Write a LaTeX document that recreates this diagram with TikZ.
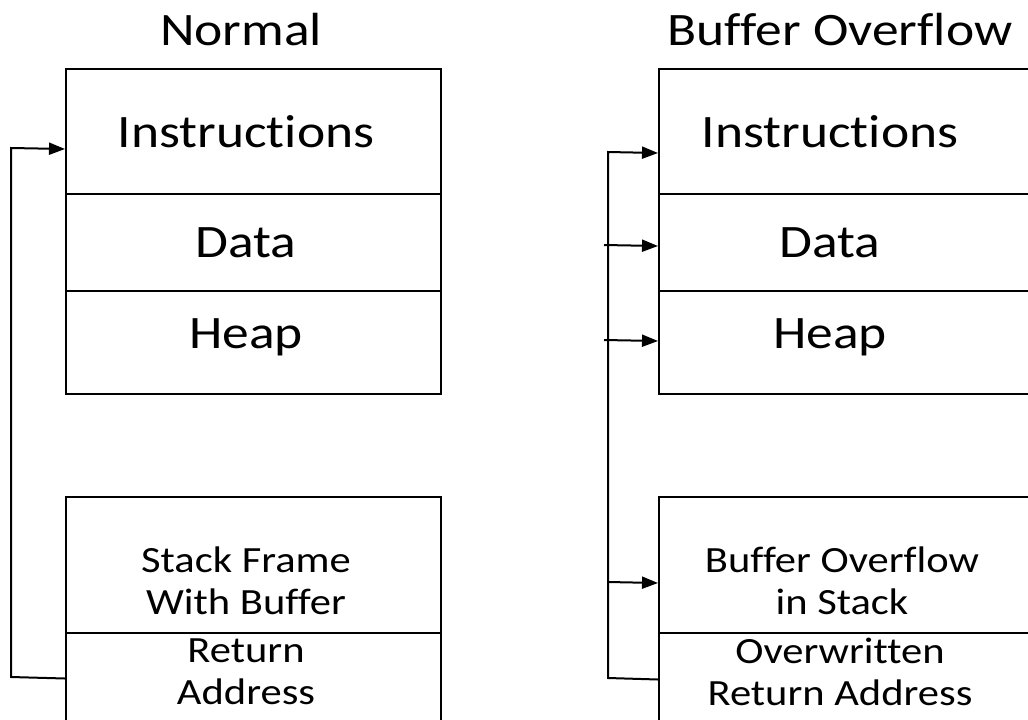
\documentclass[tikz,border=0pt]{standalone}
\usepackage{fontspec}
\setmainfont{Carlito}[FakeStretch=1.15,Ligatures=NoCommon,RawFeature={-liga;-clig;-dlig}]
\usetikzlibrary{arrows.meta}
\begin{document}
\begin{tikzpicture}[x=1pt,y=-1pt,
  cell/.style={draw=black,line width=2pt,inner sep=0pt,anchor=north west},
  big/.style={font=\fontsize{46.5}{50}\selectfont,inner sep=0pt},
  small/.style={font=\fontsize{37}{42}\selectfont,align=center,inner sep=0pt},
  conn/.style={draw=black,line width=2pt},
  tip/.style={-{Triangle[length=16pt,width=12pt]}}]
\useasboundingbox (0,0) rectangle (1028,720);
\clip (0,0) rectangle (1028,720);

% titles
\node[big] (t1) at (241,30) {Normal};
\node[big] (t2) at (840,30) {Buffer Overflow};

% normal memory layout
\node[cell,minimum width=375pt,minimum height=125pt] (ins1) at (65,68) {};
\node[cell,minimum width=375pt,minimum height=97pt]  (dat1) at (65,193) {};
\node[cell,minimum width=375pt,minimum height=103pt] (hea1) at (65,290) {};
\node[cell,minimum width=375pt,minimum height=136pt] (stk1) at (65,496) {};
\node[cell,minimum width=375pt,minimum height=88pt]  (ret1) at (65,632) {};
\node[big] (ins1t) at (246,132) {Instructions};
\node[big] (dat1t) at (246,243) {Data};
\node[big] (hea1t) at (246,337) {Heap};
\node[small] (stk1t) at (246,581) {Stack Frame\\With Buffer};
\node[small] (ret1t) at (246,672) {Return\\Address};

% overflowed memory layout
\node[cell,minimum width=380pt,minimum height=125pt] (ins2) at (658,68) {};
\node[cell,minimum width=380pt,minimum height=97pt]  (dat2) at (658,193) {};
\node[cell,minimum width=380pt,minimum height=103pt] (hea2) at (658,290) {};
\node[cell,minimum width=380pt,minimum height=136pt] (stk2) at (658,496) {};
\node[cell,minimum width=380pt,minimum height=88pt]  (ret2) at (658,632) {};
\node[big] (ins2t) at (830,132) {Instructions};
\node[big] (dat2t) at (830,243) {Data};
\node[big] (hea2t) at (830,337) {Heap};
\node[small] (stk2t) at (842,581) {Buffer Overflow\\in Stack};
\node[small] (ret2t) at (840,672) {Overwritten\\Return Address};

% normal return path
\coordinate (l1) at (11,677);
\coordinate (l2) at (11,148);
\draw[conn,tip] ([yshift=-1.5pt]ret1.west) -- (l1) -- (l2) -- ([yshift=-17.5pt]ins1.west);

% overflowed return paths
\coordinate (r1) at (608,678);
\coordinate (r2) at (608,152);
\draw[conn,tip] ([yshift=-2.5pt]ret2.west) -- (r1) -- (r2) -- ([yshift=-21.5pt]ins2.west);
\coordinate (b1) at (604,245);
\coordinate (b2) at (604,340);
\coordinate (b3) at (608,582);
\draw[conn,tip] (b1) -- ([yshift=-3.5pt]dat2.west);
\draw[conn,tip] (b2) -- ([yshift=1.5pt]hea2.west);
\draw[conn,tip] (b3) -- ([yshift=-18pt]stk2.west);
\end{tikzpicture}
\end{document}
